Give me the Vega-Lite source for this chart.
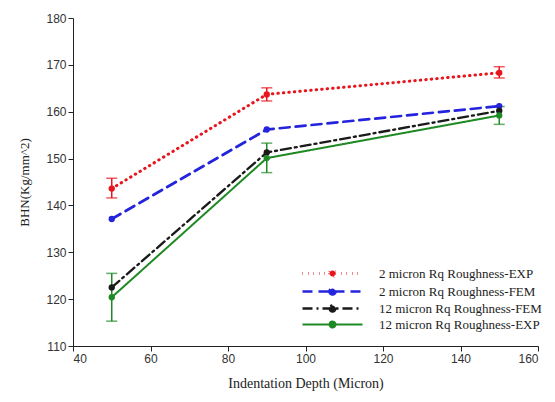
{
  "$schema": "https://vega.github.io/schema/vega-lite/v6.json",
  "width": 465,
  "height": 328,
  "autosize": {"type": "none"},
  "padding": {"left": 73, "top": 18, "right": 17, "bottom": 56},
  "background": "white",
  "config": {
    "view": {"stroke": null},
    "axis": {"grid": false, "domainColor": "#222", "tickColor": "#222", "labelFont": "Liberation Sans", "labelFontSize": 12, "labelColor": "#333", "titleFont": "Liberation Serif", "titleFontWeight": "normal", "titleColor": "#222", "tickSize": 5}
  },
  "data": {"values": [
    {"series": "2 micron  Rq Roughness-EXP", "depth": 50, "bhn": 143.6, "lo": 141.6, "hi": 145.8},
    {"series": "2 micron  Rq Roughness-EXP", "depth": 90, "bhn": 163.7, "lo": 162.3, "hi": 165.1},
    {"series": "2 micron  Rq Roughness-EXP", "depth": 150, "bhn": 168.3, "lo": 167.2, "hi": 169.6},
    {"series": "2 micron  Rq Roughness-FEM", "depth": 50, "bhn": 137.1, "lo": null, "hi": null},
    {"series": "2 micron  Rq Roughness-FEM", "depth": 90, "bhn": 156.2, "lo": null, "hi": null},
    {"series": "2 micron  Rq Roughness-FEM", "depth": 150, "bhn": 161.2, "lo": null, "hi": null},
    {"series": "12 micron  Rq Roughness-FEM", "depth": 50, "bhn": 122.5, "lo": null, "hi": null},
    {"series": "12 micron  Rq Roughness-FEM", "depth": 90, "bhn": 151.3, "lo": null, "hi": null},
    {"series": "12 micron  Rq Roughness-FEM", "depth": 150, "bhn": 160.2, "lo": null, "hi": null},
    {"series": "12 micron  Rq Roughness-EXP", "depth": 50, "bhn": 120.4, "lo": 115.3, "hi": 125.5},
    {"series": "12 micron  Rq Roughness-EXP", "depth": 90, "bhn": 150.1, "lo": 147.0, "hi": 153.3},
    {"series": "12 micron  Rq Roughness-EXP", "depth": 150, "bhn": 159.2, "lo": 157.3, "hi": 161.1}
  ]},
  "encoding": {
    "x": {"field": "depth", "type": "quantitative", "scale": {"domain": [40, 160]}, "axis": {"values": [40, 60, 80, 100, 120, 140, 160], "title": "Indentation Depth (Micron)", "titleFontSize": 14, "titlePadding": 12}}
  },
  "layer": [
    {
      "transform": [{"filter": "isValid(datum.lo)"}],
      "mark": {"type": "errorbar", "ticks": {"size": 11, "thickness": 1.5}, "rule": {"strokeWidth": 1.5}},
      "encoding": {
        "y": {"field": "lo", "type": "quantitative", "scale": {"domain": [110, 180]}, "axis": {"values": [110, 120, 130, 140, 150, 160, 170, 180], "title": "BHN(Kg/mm^2)", "titleFontSize": 13, "titlePadding": 14}},
        "y2": {"field": "hi"},
        "color": {"field": "series", "type": "nominal"}
      }
    },
    {
      "mark": {"type": "line", "strokeCap": "round"},
      "encoding": {
        "y": {"field": "bhn", "type": "quantitative", "scale": {"domain": [110, 180]}, "axis": {"values": [110, 120, 130, 140, 150, 160, 170, 180], "title": "BHN(Kg/mm^2)", "titleFontSize": 13, "titlePadding": 14}},
        "color": {"field": "series", "type": "nominal", "scale": {"domain": ["2 micron  Rq Roughness-EXP", "2 micron  Rq Roughness-FEM", "12 micron  Rq Roughness-FEM", "12 micron  Rq Roughness-EXP"], "range": ["#e8161c", "#2424dd", "#1a1a1a", "#1f8a24"]},
          "legend": {"title": null, "orient": "none", "legendX": 253, "legendY": 249, "padding": 0, "symbolType": "M-7.5,0H7.5M-0.75,0a0.75,0.75 0 1,0 1.5,0a0.75,0.75 0 1,0 -1.5,0", "symbolSize": 64, "symbolStrokeWidth": 2, "labelOffset": 40, "labelFont": "Liberation Serif", "labelFontSize": 13, "labelColor": "#222", "rowPadding": 0, "labelLimit": 300,
            "encode": {"symbols": {"update": {"fill": {"scale": "color", "field": "value"}}}}}},
        "strokeDash": {"field": "series", "type": "nominal", "scale": {"domain": ["2 micron  Rq Roughness-EXP", "2 micron  Rq Roughness-FEM", "12 micron  Rq Roughness-FEM", "12 micron  Rq Roughness-EXP"], "range": [[0.5, 5], [10, 6], [10, 4, 2, 4], [1, 0]]}, "legend": null},
        "strokeWidth": {"field": "series", "type": "nominal", "scale": {"domain": ["2 micron  Rq Roughness-EXP", "2 micron  Rq Roughness-FEM", "12 micron  Rq Roughness-FEM", "12 micron  Rq Roughness-EXP"], "range": [3, 2, 2, 2]}, "legend": null}
      }
    },
    {
      "mark": {"type": "point", "filled": true, "size": 40, "opacity": 1},
      "encoding": {
        "y": {"field": "bhn", "type": "quantitative"},
        "color": {"field": "series", "type": "nominal"}
      }
    }
  ]
}
